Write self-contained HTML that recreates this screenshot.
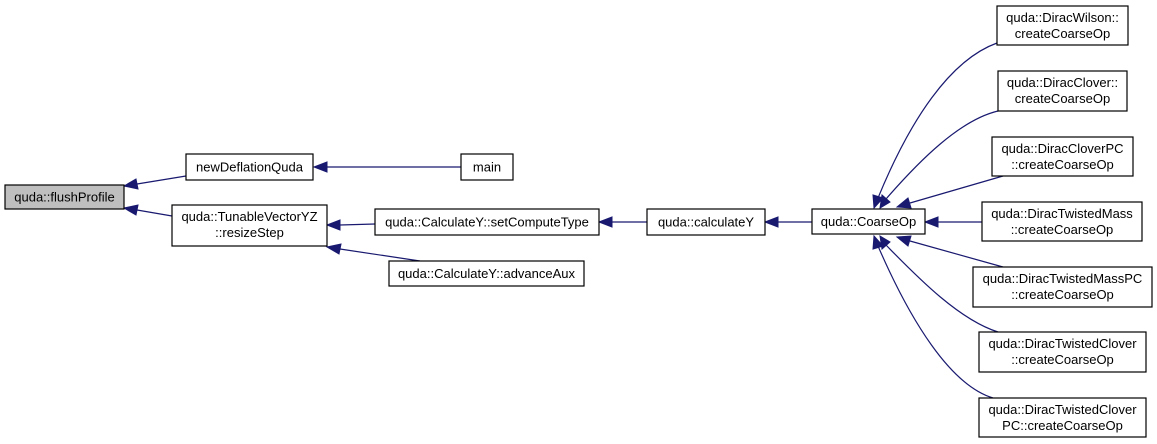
<!DOCTYPE html>
<html><head><style>
html,body{margin:0;padding:0;background:#fff;}
svg{display:block;}
text{font-family:"Liberation Sans",Arial,sans-serif;font-size:13px;fill:#000;}
.b{fill:#fff;stroke:#000;stroke-width:1.2;}
.e{fill:none;stroke:#191970;stroke-width:1.2;}
.a{fill:#191970;stroke:#191970;}
</style></head><body>
<svg width="1157" height="444" viewBox="0 0 1157 444" xmlns="http://www.w3.org/2000/svg">
<!-- edges -->
<path class="e" d="M137,184 L186,176"/><polygon class="a" points="124,186 136,179 138,189"/>
<path class="e" d="M137,210 L172,216"/><polygon class="a" points="124,208 138,205 136,215"/>
<path class="e" d="M327,167 L461,167"/><polygon class="a" points="314,167 327,162 327,172"/>
<path class="e" d="M340,225 L375,224"/><polygon class="a" points="327,225 340,220 340,230"/>
<path class="e" d="M340,249 L420,261"/><polygon class="a" points="327,247 341,244 339,254"/>
<path class="e" d="M612,222 L647,222"/><polygon class="a" points="599,222 612,217 612,227"/>
<path class="e" d="M778,222 L812,222"/><polygon class="a" points="765,222 778,217 778,227"/>
<path class="e" d="M938,222 L982,222"/><polygon class="a" points="925,222 938,217 938,227"/>
<!-- CoarseOp fan -->
<path class="e" d="M878,198 C910,120 950,60 997,43"/><polygon class="a" points="874,208 873,195 883,198"/>
<path class="e" d="M886,199 C920,160 960,120 998,111"/><polygon class="a" points="880,208 882,195 890,202"/>
<path class="e" d="M910,203 L1003,176"/><polygon class="a" points="897,207 908,198 911,208"/>
<path class="e" d="M910,241 L1003,267"/><polygon class="a" points="897,237 911,236 908,246"/>
<path class="e" d="M886,245 C920,280 960,320 998,332"/><polygon class="a" points="880,236 890,242 882,249"/>
<path class="e" d="M878,246 C910,320 950,385 993,398"/><polygon class="a" points="874,236 883,246 873,249"/>
<!-- nodes -->
<rect x="5" y="185" width="119" height="24" style="fill:#bfbfbf;stroke:#000;stroke-width:1.2"/>
<text x="64.5" y="201.5" text-anchor="middle">quda::flushProfile</text>
<rect class="b" x="186" y="154" width="127" height="26"/><text x="249.5" y="171.5" text-anchor="middle">newDeflationQuda</text>
<rect class="b" x="172" y="205" width="155" height="41"/><text x="249.5" y="221" text-anchor="middle">quda::TunableVectorYZ</text><text x="249.5" y="237" text-anchor="middle">::resizeStep</text>
<rect class="b" x="461" y="154" width="52" height="26"/><text x="487" y="171.5" text-anchor="middle">main</text>
<rect class="b" x="375" y="209" width="224" height="26"/><text x="487" y="226.5" text-anchor="middle">quda::CalculateY::setComputeType</text>
<rect class="b" x="389" y="261" width="195" height="25"/><text x="486.5" y="278" text-anchor="middle">quda::CalculateY::advanceAux</text>
<rect class="b" x="647" y="209" width="118" height="26"/><text x="706" y="226.5" text-anchor="middle">quda::calculateY</text>
<rect class="b" x="812" y="209" width="113" height="25"/><text x="868.5" y="226" text-anchor="middle">quda::CoarseOp</text>
<rect class="b" x="997" y="6" width="131" height="39"/><text x="1062.5" y="22" text-anchor="middle">quda::DiracWilson::</text><text x="1062.5" y="38" text-anchor="middle">createCoarseOp</text>
<rect class="b" x="998" y="71" width="129" height="40"/><text x="1062.5" y="87" text-anchor="middle">quda::DiracClover::</text><text x="1062.5" y="103" text-anchor="middle">createCoarseOp</text>
<rect class="b" x="992" y="137" width="141" height="39"/><text x="1062.5" y="153" text-anchor="middle">quda::DiracCloverPC</text><text x="1062.5" y="169" text-anchor="middle">::createCoarseOp</text>
<rect class="b" x="982" y="202" width="160" height="39"/><text x="1062" y="218" text-anchor="middle">quda::DiracTwistedMass</text><text x="1062" y="234" text-anchor="middle">::createCoarseOp</text>
<rect class="b" x="973" y="267" width="179" height="40"/><text x="1062.5" y="283" text-anchor="middle">quda::DiracTwistedMassPC</text><text x="1062.5" y="299" text-anchor="middle">::createCoarseOp</text>
<rect class="b" x="979" y="332" width="167" height="40"/><text x="1062.5" y="348" text-anchor="middle">quda::DiracTwistedClover</text><text x="1062.5" y="364" text-anchor="middle">::createCoarseOp</text>
<rect class="b" x="979" y="398" width="167" height="39"/><text x="1062.5" y="414" text-anchor="middle">quda::DiracTwistedClover</text><text x="1062.5" y="430" text-anchor="middle">PC::createCoarseOp</text>
</svg>
</body></html>
